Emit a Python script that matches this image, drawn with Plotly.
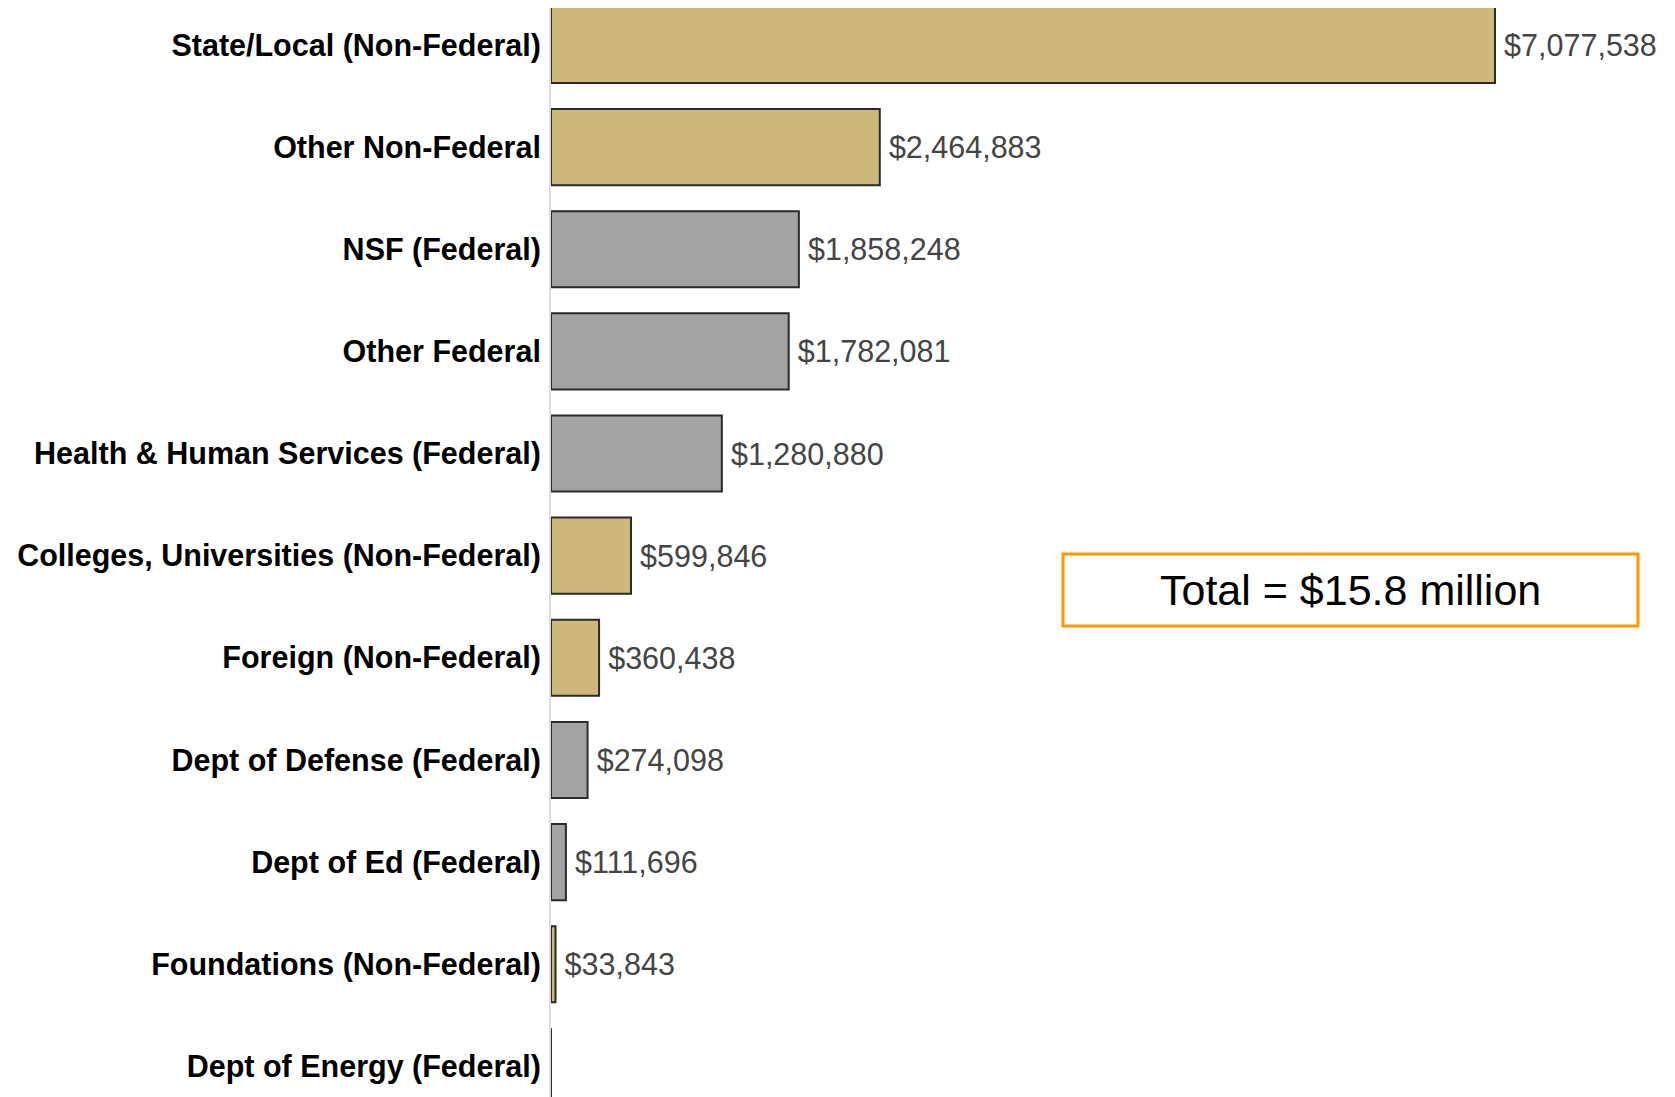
import plotly.graph_objects as go

categories = [
    "State/Local (Non-Federal)",
    "Other Non-Federal",
    "NSF (Federal)",
    "Other Federal",
    "Health & Human Services (Federal)",
    "Colleges, Universities (Non-Federal)",
    "Foreign (Non-Federal)",
    "Dept of Defense (Federal)",
    "Dept of Ed (Federal)",
    "Foundations (Non-Federal)",
    "Dept of Energy (Federal)",
]
amounts = [7077538, 2464883, 1858248, 1782081, 1280880, 599846, 360438, 274098, 111696, 33843, 0]
source_type = ["Non-Federal", "Non-Federal", "Federal", "Federal", "Federal", "Non-Federal",
               "Non-Federal", "Federal", "Federal", "Non-Federal", "Federal"]
total_text = "Total = $15.8 million"

colors = {"Non-Federal": "#CDB77B", "Federal": "#A3A3A3"}
bar_colors = [colors[t] for t in source_type]
# thin space in front keeps the label a little off the bar end
labels = ["\u2009${:,}".format(v) if v > 0 else "" for v in amounts]

fig = go.Figure()
fig.add_trace(go.Bar(
    x=amounts,
    y=categories,
    orientation='h',
    marker=dict(color=bar_colors, line=dict(color='#2a2a2a', width=2)),
    text=labels,
    textposition='outside',
    textfont=dict(family="Liberation Sans, Arial", size=30.5, color='#444444'),
    cliponaxis=False,
    hoverinfo='x+y',
))

# page body adds an 8px offset, so the figure is 8px smaller than the window
W, H = 1667, 1089
left = 543
fig.update_layout(
    width=W,
    height=H,
    margin=dict(l=left, r=0, t=0, b=0),
    plot_bgcolor='white',
    paper_bgcolor='white',
    bargap=0.255,
    showlegend=False,
    xaxis=dict(range=[0, 8427000], visible=False, showgrid=False, zeroline=False),
    yaxis=dict(
        categoryorder='array',
        categoryarray=categories,
        range=[10.30, -0.362],
        showline=True,
        linecolor='#DDDDDD',
        linewidth=2,
        showgrid=False,
        ticks='',
        ticklabelstandoff=2,
        tickfont=dict(family="Liberation Sans, Arial", size=30.5, color='black', weight='bold'),
    ),
    shapes=[dict(
        type='rect', xref='paper', yref='paper',
        x0=(1055 - left) / (W - left), x1=(1630 - left) / (W - left),
        y0=1 - 618 / H, y1=1 - 546 / H,
        line=dict(color='#FF9900', width=3),
        layer='below',
    )],
    annotations=[dict(
        text=total_text,
        xref='paper', yref='paper',
        x=(1342 - left) / (W - left), y=1 - 582 / H,
        xanchor='center', yanchor='middle',
        showarrow=False,
        font=dict(family="Liberation Sans, Arial", size=43, color='black'),
    )],
)

fig.write_html("out.html")
